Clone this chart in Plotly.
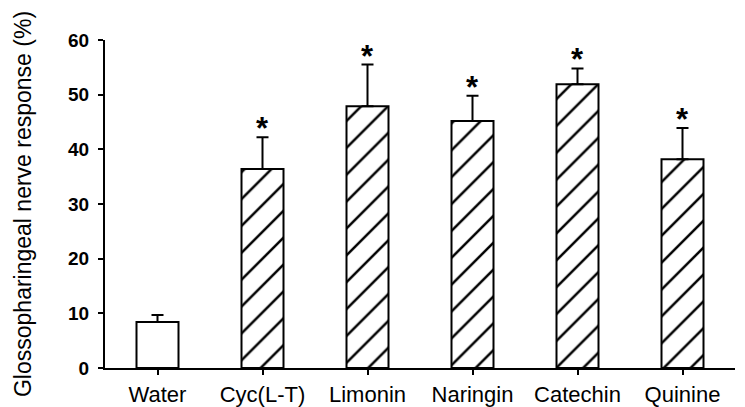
import plotly.graph_objects as go

# Glossopharyngeal nerve responses to bitter compounds (mean + SEM)
categories = ["Water", "Cyc(L-T)", "Limonin", "Naringin", "Catechin", "Quinine"]
response = [8.4, 36.4, 47.9, 45.2, 51.9, 38.2]
sem = [1.3, 5.8, 7.6, 4.6, 2.9, 5.7]
significant = [False, True, True, True, True, True]
y_ticks = [0, 10, 20, 30, 40, 50, 60]

FONT = "Arial, Liberation Sans, sans-serif"

pattern_shapes = ["" if not s else "/" for s in significant]

fig = go.Figure(
    go.Bar(
        x=categories,
        y=response,
        width=0.4,
        marker=dict(
            color="white",
            line=dict(color="black", width=2),
            pattern=dict(
                shape=pattern_shapes,
                fgcolor="black",
                fgopacity=1,
                bgcolor="white",
                size=19,
                solidity=0.13,
                fillmode="overlay",
            ),
        ),
        error_y=dict(
            type="data",
            symmetric=False,
            array=sem,
            arrayminus=[0] * len(sem),
            color="black",
            thickness=2,
            width=6,
        ),
        showlegend=False,
    )
)

# significance markers above the error bars
for cat, val, err, sig in zip(categories, response, sem, significant):
    if sig:
        fig.add_annotation(
            x=cat,
            y=val + err,
            text="<b>*</b>",
            showarrow=False,
            yanchor="bottom",
            yshift=-11,
            font=dict(family=FONT, size=31, color="black"),
        )

fig.update_layout(
    width=745,
    height=407,
    margin=dict(l=105, r=10, t=40, b=39),
    paper_bgcolor="white",
    plot_bgcolor="white",
    bargap=0.6,
    font=dict(family=FONT, color="black"),
)

fig.update_xaxes(
    range=[-0.5, 5.5],
    automargin=False,
    showline=True,
    linecolor="black",
    linewidth=2,
    ticks="outside",
    ticklen=5,
    tickwidth=1.5,
    tickcolor="black",
    ticklabelstandoff=1,
    tickfont=dict(family=FONT, size=22, color="black"),
    showgrid=False,
    zeroline=False,
)

fig.update_yaxes(
    range=[0, 60],
    automargin=False,
    tickvals=y_ticks,
    ticktext=[f"<b>{v}</b>" for v in y_ticks],
    showline=True,
    linecolor="black",
    linewidth=2,
    ticks="outside",
    ticklen=5,
    tickwidth=1.5,
    tickcolor="black",
    ticklabelstandoff=5,
    tickfont=dict(family=FONT, size=19, color="black"),
    showgrid=False,
    zeroline=False,
    title=dict(
        text="Glossopharingeal nerve response (%)",
        font=dict(family=FONT, size=23, color="black"),
        standoff=30,
    ),
)

fig.write_html("out.html")
